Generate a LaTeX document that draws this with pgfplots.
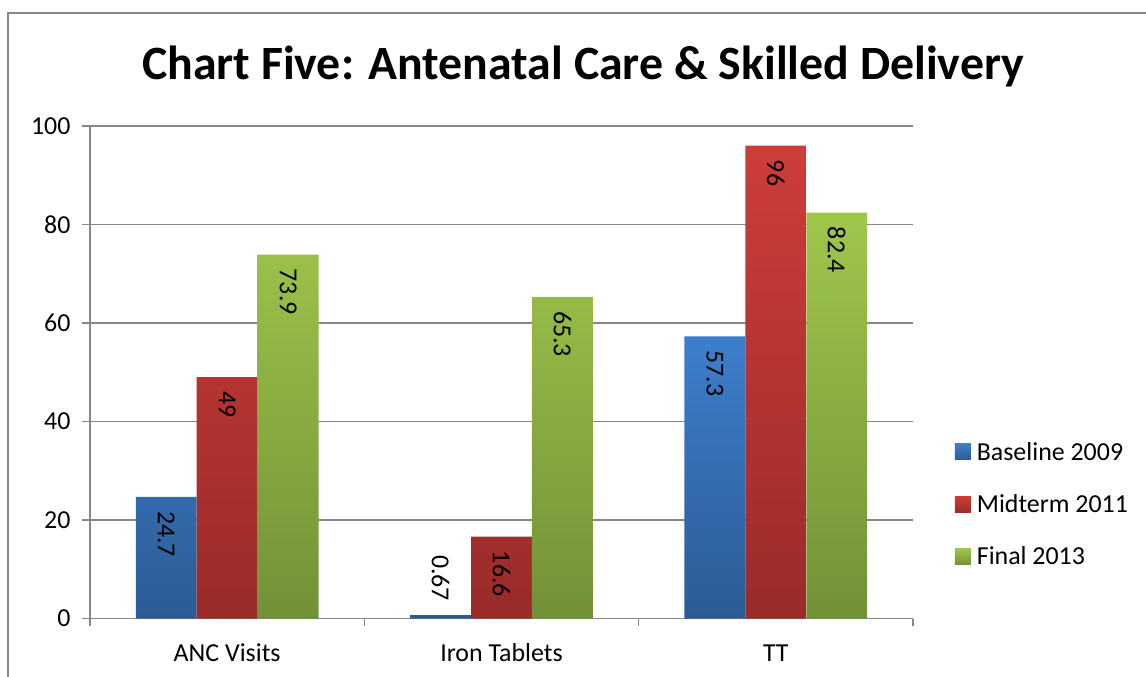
\documentclass[border=0pt]{standalone}
\usepackage{pgfplots}
\pgfplotsset{compat=1.18}
\usepackage{fontspec}
\setmainfont{Carlito}
\definecolor{axgray}{HTML}{878787}
\definecolor{blueT}{HTML}{3D7ECC}
\definecolor{blueB}{HTML}{2C5B94}
\definecolor{redT}{HTML}{CE3D3A}
\definecolor{redB}{HTML}{992B29}
\definecolor{greenT}{HTML}{9FC64C}
\definecolor{greenB}{HTML}{729137}
\begin{document}
\begin{tikzpicture}
\useasboundingbox (0,0) rectangle (1146bp,677bp);
\begin{scope}
\clip (0,0) rectangle (1146bp,677bp);
\draw[color=axgray, line width=2bp] (7.5bp,-20bp) -- (7.5bp,663.5bp) -- (1170bp,663.5bp);
\end{scope}
\node[font=\fontsize{48}{56}\selectfont\bfseries, anchor=base] at (583bp,597bp) {Chart Five: Antenatal Care \& Skilled Delivery};
\begin{axis}[
  at={(90bp,58.5bp)}, anchor=south west, scale only axis,
  width=823bp, height=492.5bp,
  ybar, bar width=0.222,
  xmin=-0.5, xmax=2.5, ymin=0, ymax=100,
  ytick={0,20,...,100},
  xtick={-0.5,0.5,1.5,2.5}, xticklabels={},
  extra x ticks={0,1,2},
  extra x tick labels={ANC Visits, Iron Tablets, TT},
  extra x tick style={major tick length=0pt,
    xticklabel style={yshift=-32bp, text height=0.72em, text depth=0.22em}},
  axis lines*=left,
  axis line style={draw=axgray, line width=1.5bp},
  tick style={draw=axgray, line width=1.5bp},
  tick align=outside, major tick length=8bp,
  ymajorgrids, grid style={draw=axgray, line width=1.5bp},
  /pgf/number format/assume math mode=true,
  tick label style={font=\fontsize{26}{31}\selectfont, text=black},
  yticklabel style={xshift=-8bp},
  point meta=explicit symbolic,
  every node near coord/.append style={font=\fontsize{26}{31}\selectfont, text=black, rotate=-90, anchor=west, inner xsep=14bp},
  legend style={at={(1.047,0.232)}, anchor=west, draw=none, fill=none,
    font=\fontsize{26}{31}\selectfont, row sep=29bp, cells={anchor=west},
    /tikz/every odd column/.append style={column sep=4bp}},
  legend cell align=left,
  legend image code/.code={\path[#1, draw=none] (0bp,-8bp) rectangle (16bp,8bp);},
]
\addplot[bar shift=-0.222, draw=none, top color=blueT, bottom color=blueB]
  coordinates {(0,24.7) (1,0.67) (2,57.3)};
\addlegendentry{Baseline 2009}
\addplot[bar shift=0, draw=none, top color=redT, bottom color=redB, nodes near coords]
  coordinates {(0,49)[49] (1,16.6)[16.6] (2,96)[96]};
\addlegendentry{Midterm 2011}
\addplot[bar shift=0.222, draw=none, top color=greenT, bottom color=greenB, nodes near coords]
  coordinates {(0,73.9)[73.9] (1,65.3)[65.3] (2,82.4)[82.4]};
\addlegendentry{Final 2013}
\addplot[bar shift=-0.222, draw=none, fill=none, forget plot, nodes near coords]
  coordinates {(0,24.7)[24.7] (2,57.3)[57.3]};
\addplot[bar shift=-0.222, draw=none, fill=none, forget plot, nodes near coords,
  every node near coord/.append style={anchor=east}]
  coordinates {(1,0.67)[0.67]};
\end{axis}
\end{tikzpicture}
\end{document}
